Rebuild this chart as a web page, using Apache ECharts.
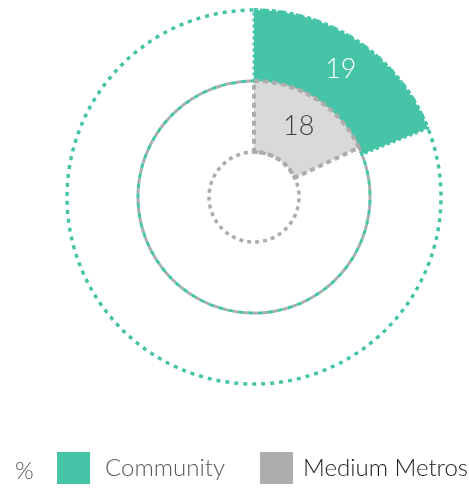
<!DOCTYPE html>
<html>
<head>
<meta charset="utf-8">
<script src="https://cdn.jsdelivr.net/npm/echarts@6/dist/echarts.min.js"></script>
<style>
  html, body { margin: 0; padding: 0; background: #fff; }
  #chart { width: 469px; height: 491px; }
</style>
</head>
<body>
<div id="chart"></div>
<script>
// Share of each group, in percent
const categories = ['Community', 'Medium Metros'];
const values = [19, 18];
const unitLabel = '%';
const fullScale = 100;

const GREEN = '#45C4A8';
const GRAY_FILL = '#D9D9D9';
const GRAY_LINE = '#ADADAD';
const FONT = 'Lato, "Open Sans", sans-serif';
const CENTER = [254, 197];

// A ring track drawn as an empty full-circle pie with a broken outline
function track(name, radius, color, dash, width, offset, z) {
  return {
    type: 'pie', name: name, silent: true, z: z,
    center: CENTER, radius: radius, startAngle: 90,
    label: { show: false }, labelLine: { show: false },
    emphasis: { disabled: true },
    itemStyle: {
      color: 'rgba(0,0,0,0)', borderColor: color, borderWidth: width,
      borderType: dash, borderDashOffset: offset || 0, borderCap: 'butt'
    },
    data: [{ value: fullScale, name: name }]
  };
}

// One coloured sector, the rest of the circle left empty
function sector(idx, radius, fill, border, dash, width, labelColor, z) {
  return {
    type: 'pie', name: categories[idx], z: z,
    center: CENTER, radius: radius, startAngle: 90, clockwise: true,
    emphasis: { disabled: true },
    labelLine: { show: false },
    data: [
      {
        value: values[idx], name: categories[idx],
        itemStyle: { color: fill, borderColor: border, borderWidth: width, borderType: dash },
        label: {
          show: true, position: 'inside', formatter: '{c}',
          color: labelColor, fontFamily: FONT, fontSize: 27, fontWeight: 300
        }
      },
      {
        value: fullScale - values[idx], name: '_rest' + idx,
        itemStyle: { color: 'rgba(0,0,0,0)', borderWidth: 0 },
        label: { show: false }
      }
    ]
  };
}

const chart = echarts.init(document.getElementById('chart'), null, { renderer: 'canvas' });

chart.setOption({
  animation: false,
  color: [GREEN, GRAY_LINE],
  title: {
    text: unitLabel, left: 10, top: 454,
    textStyle: { color: '#595959', fontFamily: FONT, fontSize: 24, fontWeight: 300 }
  },
  legend: [
    {
      data: [{ name: categories[0], itemStyle: { color: GREEN, borderWidth: 0 } }],
      left: 52, top: 447, itemWidth: 33, itemHeight: 32, icon: 'rect',
      selectedMode: false,
      textStyle: { color: '#595959', fontFamily: FONT, fontSize: 24, fontWeight: 300, padding: [0, 0, 0, 10] }
    },
    {
      data: [{ name: categories[1], itemStyle: { color: GRAY_LINE, borderWidth: 0 } }],
      left: 255, top: 447, itemWidth: 33, itemHeight: 32, icon: 'rect',
      selectedMode: false,
      textStyle: { color: '#1A1A1A', fontFamily: FONT, fontSize: 24, fontWeight: 300, padding: [0, 0, 0, 5] }
    }
  ],
  series: [
    track('outerTrack', [0, 187], GREEN, [4, 5], 3.5, 0, 1),
    sector(0, [116, 187], GREEN, GREEN, [3, 3], 3, '#FFFFFF', 2),
    track('midTrackA', [0, 116], GRAY_LINE, [5, 5], 3, 0, 3),
    track('midTrackB', [0, 116], GREEN, [5, 5], 3, 5, 3),
    sector(1, [45, 116], GRAY_FILL, GRAY_LINE, [5, 4], 4, '#404040', 4),
    track('innerTrack', [0, 45], GRAY_LINE, [4, 4], 3.5, 0, 5)
  ]
});
</script>
</body>
</html>
